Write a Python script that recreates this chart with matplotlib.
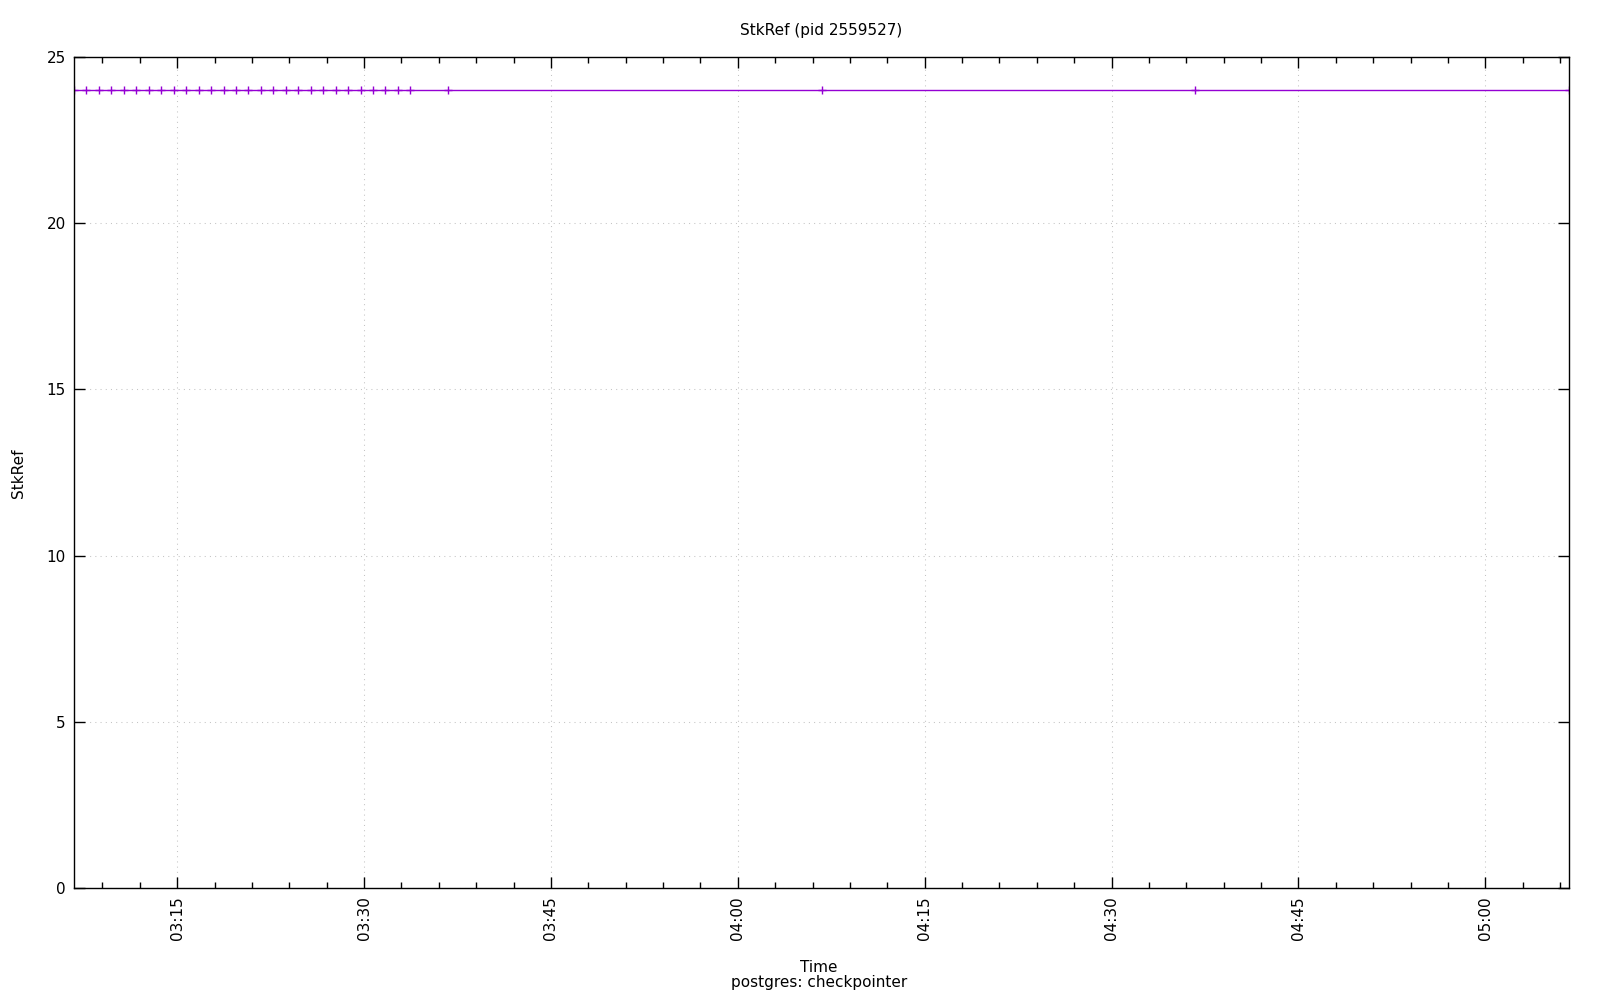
import matplotlib
matplotlib.use("Agg")
import matplotlib.pyplot as plt
import matplotlib.dates as mdates
import pandas as pd

# Data
times = (
    [f"03:{m:02d}:43" for m in range(6, 34)]
    + ["03:36:43", "04:06:43", "04:36:43", "05:06:43"]
)
values = [24] * len(times)
title = "StkRef (pid 2559527)"
ylabel = "StkRef"
xlabel = "Time"
subtitle = "postgres: checkpointer"
yticks = [0, 5, 10, 15, 20, 25]

x = pd.to_datetime(["2024-01-01 " + t for t in times])

plt.rcParams['font.family'] = ['DejaVu Sans']
fig = plt.figure(figsize=(16, 10), dpi=100)
ax = fig.add_axes([0.04625, 0.112, 0.98063 - 0.04625, 0.943 - 0.112])

ax.plot(x, values, color="#9400D3", linewidth=1.0, marker="+",
        markersize=6, markeredgewidth=1.0, clip_on=True)

ax.set_xlim(x[0], x[-1])
ax.set_ylim(0, 25)
ax.set_yticks(yticks)

ax.xaxis.set_major_locator(mdates.MinuteLocator(byminute=[0, 15, 30, 45]))
ax.xaxis.set_minor_locator(mdates.MinuteLocator(byminute=range(0, 60, 3)))
ax.xaxis.set_major_formatter(mdates.DateFormatter("%H:%M"))
ax.yaxis.set_minor_locator(plt.NullLocator())

ax.tick_params(axis="both", which="major", direction="in", length=8, width=1,
               top=True, right=True, labelsize=11, pad=6)
ax.tick_params(axis="both", which="minor", direction="in", length=4, width=1,
               top=True, right=True)
for lbl in ax.get_xticklabels():
    lbl.set_rotation(90)

ax.grid(True, which="major", linestyle=(0, (1, 4)), color="#c4c4c4", linewidth=0.75)
for s in ax.spines.values():
    s.set_linewidth(1.0)

fig.text(0.513, 0.969, title, ha="center", va="center", fontsize=11)
fig.text(0.512, 0.033, xlabel, ha="center", va="center", fontsize=11)
fig.text(0.512, 0.017, subtitle, ha="center", va="center", fontsize=11)
fig.text(0.0115, 0.527, ylabel, ha="center", va="center", fontsize=11, rotation=90)

fig.savefig("out.png", dpi=100)
